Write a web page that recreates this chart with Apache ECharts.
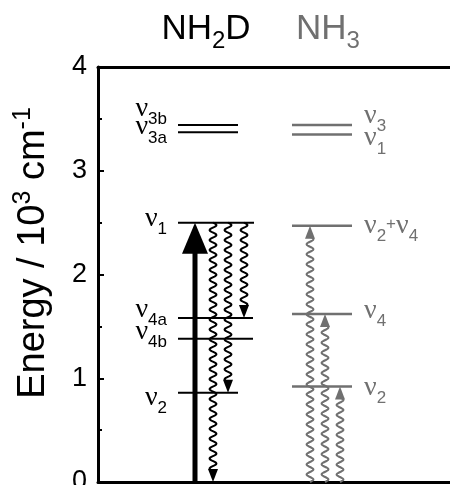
<!DOCTYPE html>
<html><head><meta charset="utf-8">
<script src="https://cdn.jsdelivr.net/npm/echarts@6/dist/echarts.min.js"></script>
<style>html,body{margin:0;padding:0;background:#fff}#c{width:450px;height:485px}</style>
</head><body><div id="c"></div>
<script>
// ---------------- data ----------------
const molecules = ['NH_2D', 'NH_3'];
const nh2dLabels = ['ν_{3b}', 'ν_{3a}', 'ν_1', 'ν_{4a}', 'ν_{4b}', 'ν_2'];
const nh2dEnergies = [3.44, 3.37, 2.50, 1.58, 1.38, 0.86];
const nh3Labels = ['ν_3', 'ν_1', 'ν_2^+ν_4', 'ν_4', 'ν_2'];
const nh3Energies = [3.44, 3.35, 2.47, 1.62, 0.92];
const nh2dPump = [0, 2.50];          // from, to (thick arrow)
const nh2dRelaxFrom = 2.50;
const nh2dRelaxTo = [0, 0.86, 1.58];
const nh3ExciteFrom = 0;
const nh3ExciteTo = [2.47, 1.62, 0.92];
const yTicks = [0, 1, 2, 3, 4];
const yAxisName = 'Energy / 10^3 cm^{-1}';

// ---------------- layout / style ----------------
const SANS_NAME = 'Liberation Sans', SERIF_NAME = 'Liberation Serif';
const BLACK = '#000', GRAY = '#707070';
const L = {
  nh2dLineX0: 80, nh2dLineEnd: [140, 140, 156, 155, 155, 140],
  nh2dLabelRight: 69, nh2dLabelDy: [-5, 6, 7, 3, 4, 16],
  nh3LineX0: 194, nh3LineX1: 254, nh3LabelLeft: 266, nh3LabelDy: [2, 15, 11, 8, 12],
  pumpX: 97, relaxX: [115, 130, 146], exciteX: [212, 227, 242]
};
const LABEL_SPEC = {size: 24, greekSize: 28, greekDy: -1.5, subSize: 17, subDy: 5.5, supSize: 17, supDy: -6};
const TITLE_SPEC = {size: 35, greekSize: 35, greekDy: 0, subSize: 24, subDy: 7.5, supSize: 24, supDy: -13};
const YNAME_SPEC = {size: 38, greekSize: 38, greekDy: 0, subSize: 25, subDy: 8, supSize: 25, supDy: -15};

// ---------------- text helpers ----------------
const mctx = document.createElement('canvas').getContext('2d');
function textW(t, size, fam) { mctx.font = size + 'px "' + fam + '"'; return mctx.measureText(t).width; }
function parseMarkup(s) {
  const out = []; let i = 0, buf = '';
  const flush = () => { if (buf) { out.push({t: buf, m: 'n'}); buf = ''; } };
  while (i < s.length) {
    const c = s[i];
    if (c === '_' || c === '^') {
      flush(); const m = c === '_' ? 'sub' : 'sup'; i++;
      let t;
      if (s[i] === '{') { const j = s.indexOf('}', i); t = s.slice(i + 1, j); i = j + 1; }
      else { t = s[i]; i++; }
      out.push({t, m});
    } else { buf += c; i++; }
  }
  flush();
  const res = [];
  out.forEach(tk => tk.t.split(/(ν)/).filter(Boolean).forEach(p => res.push({t: p, m: tk.m, greek: p === 'ν'})));
  return res;
}
function richText(str, spec, x, baseY, align, color) {
  const pieces = parseMarkup(str).map(tk => {
    const size = tk.m === 'n' ? (tk.greek ? spec.greekSize : spec.size) : (tk.m === 'sub' ? spec.subSize : spec.supSize);
    const fam = tk.greek ? SERIF_NAME : SANS_NAME;
    const dy = (tk.m === 'sub' ? spec.subDy : tk.m === 'sup' ? spec.supDy : 0) + (tk.greek ? spec.greekDy : 0);
    return {t: tk.t, size, fam, dy, w: textW(tk.t, size, fam)};
  });
  const total = pieces.reduce((a, p) => a + p.w, 0);
  let cx = align === 'right' ? x - total : align === 'center' ? x - total / 2 : x;
  return pieces.map(p => {
    const el = {type: 'text', x: cx, y: baseY + p.dy - 0.35 * p.size,
      style: {text: p.t, fontSize: p.size, fontFamily: p.fam, fill: color,
        align: 'left', verticalAlign: 'middle'}};
    cx += p.w; return el;
  });
}

// ---------------- mark helpers ----------------
function wavyArrow(x, y0, y1, color) {
  const amp = 3.4, period = 10, head = 13, hw = 5;
  const dir = Math.sign(y1 - y0);
  const len = Math.abs(y1 - y0) - head + 2;
  const n = Math.max(1, Math.round(len / (period / 2)));
  const per = 2 * len / n;
  const pts = [];
  for (let d = 0; d <= len + 0.01; d += 0.5) pts.push([x + amp * Math.sin(2 * Math.PI * d / per), y0 + dir * d]);
  return [
    {type: 'polyline', shape: {points: pts}, style: {stroke: color, lineWidth: 2, fill: null}},
    {type: 'polygon', shape: {points: [[x, y1], [x - hw, y1 - dir * head], [x + hw, y1 - dir * head]]}, style: {fill: color}}
  ];
}

function levelSeries(energies, labels, mol) {
  const color = mol === 0 ? BLACK : GRAY;
  return {
    type: 'custom', coordinateSystem: 'cartesian2d', z: 4, clip: false,
    data: energies.map((e, i) => [i, e]), encode: {x: 0, y: 1},
    renderItem: (params, api) => {
      const i = params.dataIndex, e = api.value(1);
      const x0 = mol === 0 ? L.nh2dLineX0 : L.nh3LineX0;
      const x1 = mol === 0 ? L.nh2dLineEnd[i] : L.nh3LineX1;
      const p0 = api.coord([x0, e]), p1 = api.coord([x1, e]);
      const children = [{type: 'line', shape: {x1: p0[0], y1: p0[1], x2: p1[0], y2: p1[1]},
        style: {stroke: color, lineWidth: mol === 0 ? 2 : 2.5}}];
      const lx = api.coord([mol === 0 ? L.nh2dLabelRight : L.nh3LabelLeft, e])[0];
      const dy = mol === 0 ? L.nh2dLabelDy[i] : L.nh3LabelDy[i];
      children.push(...richText(labels[i], LABEL_SPEC, lx, p0[1] + dy, mol === 0 ? 'right' : 'left', color));
      return {type: 'group', children};
    }
  };
}

function waveSeries(from, toArr, xs, color) {
  return {
    type: 'custom', coordinateSystem: 'cartesian2d', z: 3, clip: false,
    data: toArr.map((t, i) => [i, from, t]), encode: {x: 0, y: [1, 2]},
    renderItem: (params, api) => {
      const i = params.dataIndex;
      const p0 = api.coord([xs[i], api.value(1)]), p1 = api.coord([xs[i], api.value(2)]);
      return {type: 'group', children: wavyArrow(p0[0], p0[1], p1[1], color)};
    }
  };
}

const pumpSeries = {
  type: 'custom', coordinateSystem: 'cartesian2d', z: 5, clip: false,
  data: [[0, nh2dPump[0], nh2dPump[1]]], encode: {x: 0, y: [1, 2]},
  renderItem: (params, api) => {
    const p0 = api.coord([L.pumpX, api.value(1)]), p1 = api.coord([L.pumpX, api.value(2)]);
    const head = 31, hw = 13;
    return {type: 'group', children: [
      {type: 'line', shape: {x1: p0[0], y1: p0[1], x2: p1[0], y2: p1[1] + head - 2}, style: {stroke: BLACK, lineWidth: 5}},
      {type: 'polygon', shape: {points: [[p1[0], p1[1]], [p1[0] - hw, p1[1] + head], [p1[0] + hw, p1[1] + head]]}, style: {fill: BLACK}}
    ]};
  }
};

const chart = echarts.init(document.getElementById('c'), null, {renderer: 'canvas'});
const axisCommon = {type: 'value', min: 0, max: 362, axisTick: {show: false}, axisLabel: {show: false}, splitLine: {show: false}};
chart.setOption({
  animation: false,
  backgroundColor: '#fff',
  grid: {left: 98, right: -10, top: 67, bottom: 3, containLabel: false, outerBoundsMode: 'none'},
  xAxis: [
    Object.assign({position: 'bottom', axisLine: {show: true, onZero: false, lineStyle: {color: BLACK, width: 3}}}, axisCommon),
    Object.assign({position: 'top', axisLine: {show: true, onZero: false, lineStyle: {color: BLACK, width: 3}}}, axisCommon)
  ],
  yAxis: {
    type: 'value', min: yTicks[0], max: yTicks[yTicks.length - 1], interval: 1,
    axisLine: {show: true, lineStyle: {color: BLACK, width: 3}},
    axisTick: {show: true, inside: true, length: 6, lineStyle: {color: BLACK, width: 2}},
    minorTick: {show: true, splitNumber: 2, length: 4, lineStyle: {color: BLACK, width: 2}},
    axisLabel: {fontSize: 27, color: BLACK, margin: 11, fontFamily: SANS_NAME},
    splitLine: {show: false}
  },
  graphic: [
    {type: 'group', x: 0, y: 0, children: richText(molecules[0], TITLE_SPEC, 206, 42, 'center', BLACK)},
    {type: 'group', x: 0, y: 0, children: richText(molecules[1], TITLE_SPEC, 328, 42, 'center', GRAY)},
    {type: 'group', x: 47, y: 253, rotation: Math.PI / 2, children: richText(yAxisName, YNAME_SPEC, 0, 0, 'center', BLACK)}
  ],
  series: [
    pumpSeries,
    waveSeries(nh2dRelaxFrom, nh2dRelaxTo, L.relaxX, BLACK),
    waveSeries(nh3ExciteFrom, nh3ExciteTo, L.exciteX, GRAY),
    levelSeries(nh2dEnergies, nh2dLabels, 0),
    levelSeries(nh3Energies, nh3Labels, 1)
  ]
});
</script></body></html>
